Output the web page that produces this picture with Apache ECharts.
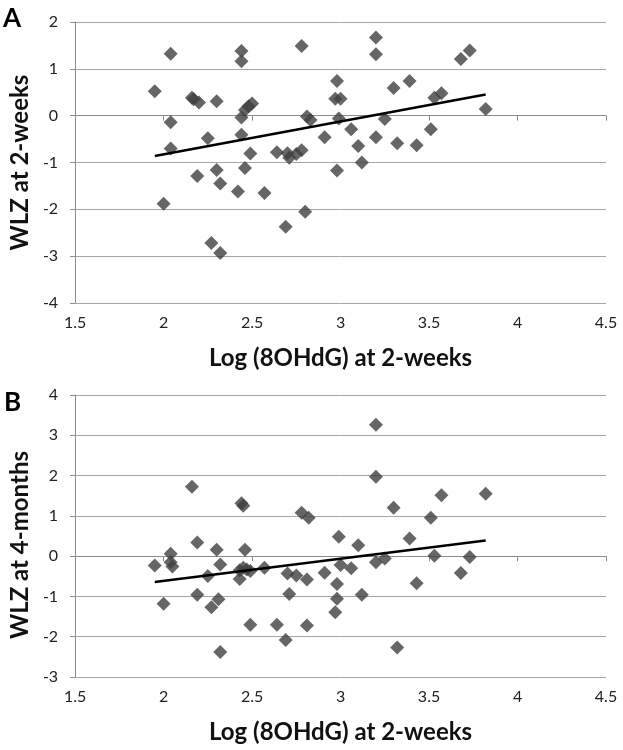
<!DOCTYPE html>
<html>
<head>
<meta charset="utf-8">
<script src="https://cdn.jsdelivr.net/npm/echarts@6/dist/echarts.min.js"></script>
<style>
  html, body { margin: 0; padding: 0; background: #fff; }
  #chart { width: 623px; height: 750px; }
</style>
</head>
<body>
<div id="chart"></div>
<script>
// Panel A: WLZ at 2-weeks vs log 8OHdG
const pointsA = [
  [1.95, 0.52], [2.04, 1.32], [2.04, -0.14], [2.04, -0.70], [2.00, -1.88],
  [2.16, 0.38], [2.17, 0.35], [2.20, 0.28], [2.19, -1.29], [2.25, -0.48],
  [2.30, 0.31], [2.30, -1.16], [2.32, -1.45], [2.27, -2.72], [2.32, -2.93],
  [2.42, -1.62], [2.44, -0.41], [2.44, 1.38], [2.44, 1.16], [2.44, -0.04],
  [2.46, 0.12], [2.48, 0.20], [2.50, 0.26], [2.46, -1.12], [2.49, -0.81],
  [2.57, -1.65], [2.64, -0.78], [2.70, -0.80], [2.71, -0.90], [2.75, -0.82],
  [2.78, -0.74], [2.69, -2.37], [2.78, 1.49], [2.80, -2.05], [2.81, -0.02],
  [2.83, -0.09], [2.91, -0.46], [2.98, 0.74], [2.97, 0.36], [3.00, 0.36],
  [2.99, -0.06], [2.98, -1.17], [3.06, -0.29], [3.10, -0.65], [3.12, -1.00],
  [3.20, 1.67], [3.20, 1.31], [3.20, -0.46], [3.25, -0.07], [3.30, 0.59],
  [3.32, -0.59], [3.39, 0.74], [3.43, -0.63], [3.51, -0.29], [3.53, 0.38],
  [3.57, 0.48], [3.68, 1.21], [3.73, 1.39], [3.82, 0.14]
];
const trendA = [[1.95, -0.86], [3.82, 0.45]];

// Panel B: WLZ at 4-months vs log 8OHdG
const pointsB = [
  [1.95, -0.23], [2.00, -1.18], [2.04, 0.06], [2.04, -0.15], [2.05, -0.26],
  [2.16, 1.72], [2.19, 0.34], [2.19, -0.96], [2.25, -0.49], [2.27, -1.27],
  [2.30, 0.16], [2.32, -0.21], [2.31, -1.07], [2.32, -2.38], [2.43, -0.35],
  [2.44, 1.31], [2.45, 1.25], [2.46, 0.16], [2.43, -0.57], [2.45, -0.29],
  [2.47, -0.33], [2.49, -0.37], [2.49, -1.70], [2.57, -0.29], [2.64, -1.70],
  [2.70, -0.43], [2.71, -0.94], [2.69, -2.08], [2.75, -0.48], [2.81, -0.58],
  [2.81, -1.72], [2.78, 1.08], [2.82, 0.95], [2.91, -0.41], [2.99, 0.48],
  [3.00, -0.22], [2.98, -0.69], [2.98, -1.06], [2.97, -1.39], [3.06, -0.30],
  [3.10, 0.27], [3.12, -0.96], [3.20, 3.26], [3.20, 1.97], [3.20, -0.15],
  [3.25, -0.06], [3.30, 1.20], [3.32, -2.27], [3.39, 0.44], [3.43, -0.67],
  [3.51, 0.95], [3.53, 0.01], [3.57, 1.51], [3.68, -0.42], [3.73, -0.02],
  [3.82, 1.55]
];
const trendB = [[1.95, -0.64], [3.82, 0.39]];

const xTitle = "Log (8OHdG) at 2-weeks";
const yTitleA = "WLZ at 2-weeks";
const yTitleB = "WLZ at 4-months";

const FONT = "Lato";
const axisGrey = "#8c8c8c";
const gridGrey = "#a6a6a6";
const markColor = "#404040";

function xAxisFor(gridIndex) {
  return {
    type: "value",
    gridIndex: gridIndex,
    min: 1.5,
    max: 4.5,
    interval: 0.5,
    name: xTitle,
    nameLocation: "middle",
    nameGap: 43,
    nameTextStyle: { color: "#111", fontFamily: FONT, fontWeight: "bold", fontSize: 24 },
    axisLine: { show: true, lineStyle: { color: axisGrey, width: 1 } },
    axisTick: { show: true, length: 5, lineStyle: { color: axisGrey } },
    axisLabel: { color: "#222", fontFamily: FONT, fontSize: 16, margin: 12 },
    splitLine: { show: false }
  };
}

function yAxisFor(gridIndex, min, max, title, pad) {
  return {
    type: "value",
    gridIndex: gridIndex,
    min: min,
    max: max,
    interval: 1,
    name: title,
    nameLocation: "middle",
    nameRotate: 90,
    nameGap: 38,
    nameTextStyle: {
      color: "#111", fontFamily: FONT, fontWeight: "bold", fontSize: 24,
      padding: pad
    },
    axisLine: { show: true, lineStyle: { color: axisGrey, width: 1 } },
    axisTick: { show: true, length: 5, lineStyle: { color: axisGrey } },
    axisLabel: { color: "#222", fontFamily: FONT, fontSize: 16, margin: 17 },
    splitLine: { show: true, lineStyle: { color: gridGrey, width: 1 } }
  };
}

function scatterSeries(idx, data) {
  return {
    type: "scatter",
    xAxisIndex: idx,
    yAxisIndex: idx,
    data: data,
    symbol: "diamond",
    symbolSize: 14,
    itemStyle: { color: markColor },
    z: 3
  };
}

function trendSeries(idx, data) {
  return {
    type: "line",
    xAxisIndex: idx,
    yAxisIndex: idx,
    data: data,
    symbol: "none",
    lineStyle: { color: "#000", width: 2.5 },
    z: 4
  };
}

const chart = echarts.init(document.getElementById("chart"));
chart.setOption({
  animation: false,
  backgroundColor: "#fff",
  title: [
    { text: "A", left: 3, top: 6, padding: 0, textStyle: { fontFamily: FONT, fontWeight: "bold", fontSize: 26, color: "#000" } },
    { text: "B", left: 4, top: 390, padding: 0, textStyle: { fontFamily: FONT, fontWeight: "bold", fontSize: 26, color: "#000" } }
  ],
  grid: [
    { left: 71, right: 17, top: 22, height: 281 },
    { left: 71, right: 17, top: 395, height: 282 }
  ],
  xAxis: [xAxisFor(0), xAxisFor(1)],
  yAxis: [
    yAxisFor(0, -4, 2, yTitleA, [0, 0, 0, 0]),
    yAxisFor(1, -3, 4, yTitleB, [0, 18, 0, 0])
  ],
  series: [
    scatterSeries(0, pointsA),
    trendSeries(0, trendA),
    scatterSeries(1, pointsB),
    trendSeries(1, trendB)
  ]
});
</script>
</body>
</html>
